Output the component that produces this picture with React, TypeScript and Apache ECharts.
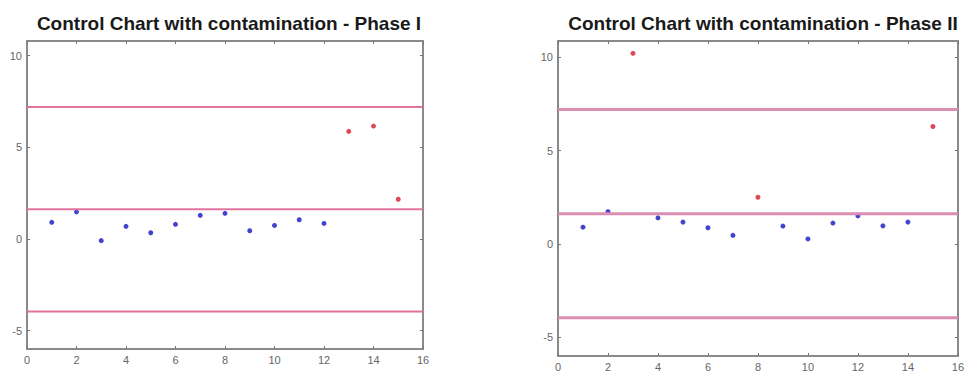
import React, { useEffect, useRef } from "react";
import * as echarts from "echarts";

const titles = ["Control Chart with contamination - Phase I", "Control Chart with contamination - Phase II"];
const samples = [1, 2, 3, 4, 5, 6, 7, 8, 9, 10, 11, 12, 13, 14, 15];
const phase1 = [0.91, 1.48, -0.09, 0.69, 0.34, 0.8, 1.29, 1.4, 0.45, 0.74, 1.05, 0.85, 5.87, 6.16, 2.17];
const phase1Out = [false, false, false, false, false, false, false, false, false, false, false, false, true, true, true];
const phase2 = [0.9, 1.73, 10.21, 1.4, 1.17, 0.87, 0.46, 2.5, 0.96, 0.27, 1.12, 1.51, 0.97, 1.17, 6.29];
const phase2Out = [false, false, true, false, false, false, false, true, false, false, false, false, false, false, true];
const ucl = 7.2;
const cl = 1.62;
const lcl = -3.95;
const xTicks = [0, 16];
const yTicks = [-5, 0, 5, 10];

export default function App() {
  const ref = useRef<HTMLDivElement>(null);
  useEffect(() => {
    const chart = echarts.init(ref.current!, null, { renderer: "svg" });
    const grids = [
      { left: 27, top: 41, width: 396, height: 308 },
      { left: 558, top: 41, width: 403, height: 315 },
    ];
    const yMax = [10.8, 10.87];
    const lineW = [2, 3];
    const lineC = ["#e2739f", "#dc8db4"];
    const axisLine = { show: true, onZero: false, lineStyle: { color: "#8a8a8a", width: 2 } };
    const tick = { inside: true, length: 3, lineStyle: { color: "#777" } };
    const xAxis: any[] = [];
    const yAxis: any[] = [];
    const series: any[] = [];
    [0, 1].forEach((g) => {
      xAxis.push({
        type: "value", gridIndex: g, min: xTicks[0], max: xTicks[1], interval: 2,
        axisLine, splitLine: { show: false }, axisTick: tick,
        axisLabel: { color: "#666", fontSize: 11, fontFamily: "Liberation Sans", margin: 5 },
      });
      xAxis.push({
        type: "value", gridIndex: g, position: "top", min: xTicks[0], max: xTicks[1], interval: 2,
        axisLine, splitLine: { show: false }, axisTick: tick,
        axisLabel: { show: false },
      });
      yAxis.push({
        type: "value", gridIndex: g, min: -6, max: yMax[g],
        axisLine, splitLine: { show: false },
        axisTick: { ...tick, customValues: yTicks },
        axisLabel: { color: "#666", fontSize: 11, fontFamily: "Liberation Sans", margin: 5, customValues: yTicks },
      });
      yAxis.push({
        type: "value", gridIndex: g, position: "right", min: -6, max: yMax[g],
        axisLine, splitLine: { show: false },
        axisTick: { ...tick, customValues: yTicks },
        axisLabel: { show: false },
      });
      const vals = g === 0 ? phase1 : phase2;
      const outs = g === 0 ? phase1Out : phase2Out;
      [ucl, cl, lcl].forEach((v) => {
        series.push({
          type: "line", xAxisIndex: g * 2, yAxisIndex: g * 2, symbol: "none",
          data: [[xTicks[0], v], [xTicks[1], v]],
          lineStyle: { color: lineC[g], width: lineW[g] },
        });
      });
      series.push({
        type: "scatter", xAxisIndex: g * 2, yAxisIndex: g * 2, symbol: "circle", symbolSize: 5,
        data: samples.map((s, i) => (outs[i] ? null : [s, vals[i]])).filter(Boolean),
        itemStyle: { color: "#1414c0" },
      });
      series.push({
        type: "scatter", xAxisIndex: g * 2, yAxisIndex: g * 2, symbol: "circle", symbolSize: 5,
        data: samples.map((s, i) => (outs[i] ? [s, vals[i]] : null)).filter(Boolean),
        itemStyle: { color: "#d41c30" },
      });
    });
    const titleStyle = { fontSize: 19, fontWeight: "bold", color: "#1a1a1a", fontFamily: "Liberation Sans" };
    chart.setOption({
      animation: false,
      backgroundColor: "#ffffff",
      title: [
        { text: titles[0], left: 224, top: 9, textAlign: "center", textStyle: titleStyle },
        { text: titles[1], left: 758, top: 9, textAlign: "center", textStyle: titleStyle },
      ],
      grid: grids,
      xAxis,
      yAxis,
      series,
    });
    return () => chart.dispose();
  }, []);
  return <div ref={ref} style={{ width: 967, height: 372, position: "absolute", left: 0, top: 0 }} />;
}
